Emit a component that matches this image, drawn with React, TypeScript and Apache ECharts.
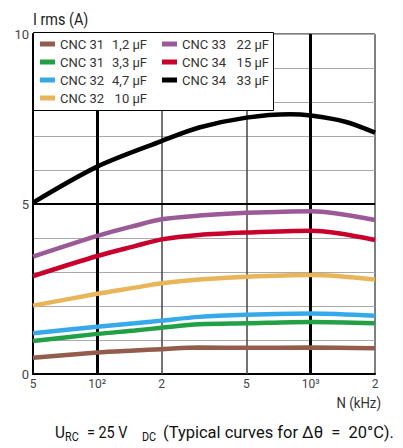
import React, { useEffect, useRef } from "react";
import * as echarts from "echarts";

const FONT = "Roboto, 'Liberation Sans', sans-serif";

const freqs = [50, 100, 150, 200, 300, 500, 1000, 2000];
const freqsBlack = [50, 100, 200, 300, 500, 800, 1000, 1450, 2000];

const brown = [0.48, 0.63, 0.69, 0.73, 0.78, 0.77, 0.78, 0.76];
const green = [0.97, 1.18, 1.28, 1.36, 1.46, 1.49, 1.53, 1.49];
const blue = [1.2, 1.39, 1.49, 1.57, 1.68, 1.74, 1.78, 1.71];
const orange = [2.01, 2.36, 2.54, 2.67, 2.78, 2.86, 2.91, 2.78];
const purple = [3.45, 4.06, 4.36, 4.55, 4.66, 4.74, 4.79, 4.53];
const red = [2.88, 3.47, 3.76, 3.96, 4.09, 4.16, 4.21, 3.94];
const black = [5.04, 6.1, 6.85, 7.25, 7.54, 7.64, 7.6, 7.42, 7.1];

const xTickFreqs = [50, 100, 200, 500, 1000, 2000];
const xTickLabels = ["5", "10²", "2", "5", "10³", "2"];
const yTickLabels = [0, 5, 10];

const seriesDefs = [
  { prefix: "CNC 31", value: "1,2 µF", color: "#935c4c", x: freqs, y: brown },
  { prefix: "CNC 31", value: "3,3 µF", color: "#22a046", x: freqs, y: green },
  { prefix: "CNC 32", value: "4,7 µF", color: "#35a9e9", x: freqs, y: blue },
  { prefix: "CNC 32", value: "10 µF", color: "#e8b558", x: freqs, y: orange },
  { prefix: "CNC 33", value: "22 µF", color: "#9b5a97", x: freqs, y: purple },
  { prefix: "CNC 34", value: "15 µF", color: "#c8002c", x: freqs, y: red },
  { prefix: "CNC 34", value: "33 µF", color: "#000000", x: freqsBlack, y: black },
];

export default function App() {
  const ref = useRef<HTMLDivElement>(null);
  useEffect(() => {
    if (!ref.current) return;
    const chart = echarts.init(ref.current, undefined, { renderer: "svg" });
    const names = seriesDefs.map((s) => `${s.prefix}|${s.value}`);
    const legendCommon = {
      orient: "vertical",
      icon: "rect",
      itemWidth: 15,
      itemHeight: 5,
      itemGap: 4,
      padding: 0,
      selectedMode: false,
      textStyle: {
        fontFamily: FONT,
        fontSize: 13,
        color: "#333",
        lineHeight: 14,
        rich: {
          a: { fontFamily: FONT, fontSize: 13, color: "#333", width: 49, lineHeight: 14 },
          b: { fontFamily: FONT, fontSize: 13, color: "#333", width: 38, align: "right", lineHeight: 14 },
        },
      },
      formatter: (n: string) => {
        const [p, v] = n.split("|");
        return `{a|${p}}{b|${v}}`;
      },
    };
    const series: any[] = seriesDefs.map((s, i) => ({
      name: names[i],
      type: "line",
      data: s.x.map((f, j) => [Math.log10(f), s.y[j]]),
      smooth: 0.3,
      symbol: "none",
      lineStyle: { color: s.color, width: 4.5 },
      itemStyle: { color: s.color },
      z: 2,
    }));
    series.push({
      type: "line",
      data: [],
      silent: true,
      z: 1,
      markLine: {
        silent: true,
        z: 1,
        symbol: "none",
        label: { show: false },
        animation: false,
        data: [
          { xAxis: Math.log10(100), lineStyle: { color: "#000", width: 3, type: "solid" } },
          { xAxis: Math.log10(1000), lineStyle: { color: "#000", width: 3, type: "solid" } },
          { xAxis: Math.log10(200), lineStyle: { color: "#444", width: 1.5, type: "solid" } },
          { xAxis: Math.log10(500), lineStyle: { color: "#444", width: 1.5, type: "solid" } },
          { yAxis: 5, lineStyle: { color: "#000", width: 2, type: "solid" } },
        ],
      },
    });
    const t = (text: string, x: number, y: number, size: number, sx: number, extra: any = {}) => ({
      type: "text",
      x,
      y,
      scaleX: sx,
      style: { text, fontFamily: FONT, fontSize: size, fill: "#111", verticalAlign: "middle", ...extra },
    });
    chart.setOption({
      animation: false,
      grid: {
        left: 33,
        right: 28,
        top: 34,
        bottom: 74,
        show: true,
        borderColor: "#000",
        borderWidth: 1,
        backgroundColor: "transparent",
      },
      xAxis: {
        type: "value",
        min: Math.log10(50),
        max: Math.log10(2000),
        axisLine: { show: true, lineStyle: { color: "#000", width: 2 } },
        axisTick: { show: false },
        splitLine: { show: false },
        axisLabel: {
          customValues: xTickFreqs.map((f) => Math.log10(f)),
          formatter: (v: number) => {
            let best = 0;
            let d = Infinity;
            xTickFreqs.forEach((f, i) => {
              const dd = Math.abs(Math.log10(f) - v);
              if (dd < d) { d = dd; best = i; }
            });
            return xTickLabels[best];
          },
          fontFamily: FONT,
          fontSize: 12,
          color: "#444",
          margin: 4,
          showMinLabel: true,
          showMaxLabel: true,
        },
      },
      yAxis: {
        type: "value",
        min: 0,
        max: 10,
        interval: 1,
        axisLine: { show: true, lineStyle: { color: "#000", width: 2 } },
        axisTick: { show: false },
        splitLine: { show: true, lineStyle: { color: "#aaa", width: 1 } },
        axisLabel: {
          formatter: (v: number) => (yTickLabels.includes(v) ? String(v) : ""),
          fontFamily: FONT,
          fontSize: 13,
          color: "#444",
          margin: 4,
        },
      },
      legend: [
        { ...legendCommon, left: 40, top: 37, data: names.slice(0, 4) },
        { ...legendCommon, left: 162, top: 37, data: names.slice(4) },
      ],
      graphic: [
        {
          type: "rect",
          z: 3,
          shape: { x: 33.5, y: 32.5, width: 240, height: 78 },
          style: { fill: "#fff", stroke: "#000", lineWidth: 1 },
        },
        t("I rms (A)", 33, 20, 16, 0.9, { fill: "#222" }),
        t("N (kHz)", 381, 403, 15, 0.88, { fill: "#333", align: "right" }),
        t("U", 55, 432, 17, 0.9),
        t("RC", 65, 437, 12, 0.9),
        t("= 25 V", 87, 432, 17, 0.85),
        t("DC", 142, 437, 12, 0.9),
        t("(Typical curves for Δθ  =  20°C).", 163, 432, 17, 0.97),
      ],
      series,
    });
    return () => chart.dispose();
  }, []);
  return (
    <div
      ref={ref}
      style={{ position: "fixed", left: 0, top: 0, width: 403, height: 448, background: "#fff" }}
    />
  );
}
